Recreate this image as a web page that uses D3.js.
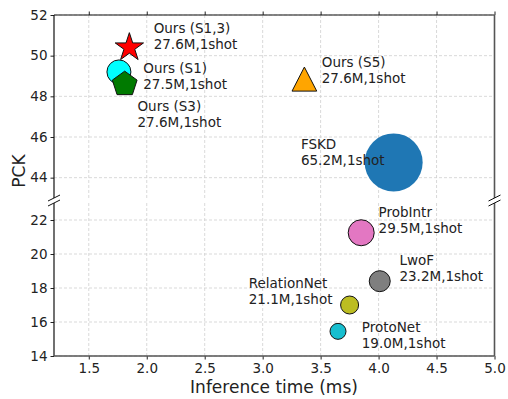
<!DOCTYPE html>
<html>
<head>
<meta charset="utf-8">
<script src="https://cdn.jsdelivr.net/npm/d3@7"></script>
<style>
  body { margin: 0; background: #fff; }
  text { font-family: "DejaVu Sans", sans-serif; fill: #222; }
</style>
</head>
<body>
<div id="chart"></div>
<script>
// methods: inference time (ms), PCK, label lines
const names = ["Ours (S1,3)", "Ours (S1)", "Ours (S3)", "Ours (S5)", "FSKD", "ProbIntr", "LwoF", "RelationNet", "ProtoNet"];
const params = ["27.6M,1shot", "27.5M,1shot", "27.6M,1shot", "27.6M,1shot", "65.2M,1shot", "29.5M,1shot", "23.2M,1shot", "21.1M,1shot", "19.0M,1shot"];
const times = [1.85, 1.76, 1.81, 3.36, 4.13, 3.85, 4.01, 3.75, 3.65];
const pck = [50.4, 49.2, 48.6, 48.8, 44.75, 21.25, 18.4, 17.0, 15.45];
// label anchor (data coords, first-line baseline)
const labelX = [2.06, 1.97, 1.92, 3.51, 3.33, 4.0, 4.18, 2.88, 3.855];
const labelY = [51.1, 49.15, 47.28, 49.44, 45.41, 22.19, 19.35, 17.99, 15.41];
const colors = ["red", "#00ffff", "#007a00", "#ffa500", "#1f77b4", "#e377c2", "#7f7f7f", "#bcbd22", "#17becf"];
const shapes = ["star", "circle", "pentagon", "triangle", "circle", "circle", "circle", "circle", "circle"];
const radius = [12, 12, 13, 13, 29, 13, 10.5, 9, 8];
const xTicks = [1.5, 2.0, 2.5, 3.0, 3.5, 4.0, 4.5, 5.0];
const topTicks = [44, 46, 48, 50, 52];
const botTicks = [14, 16, 18, 20, 22];

const W = 508, H = 399;
const left = 54, right = 494.5;
const topY0 = 15, topY1 = 198, botY0 = 203, botY1 = 356;

const x = d3.scaleLinear().domain([1.2, 5.0]).range([left, right]);
const yTop = d3.scaleLinear().domain([43, 52]).range([topY1, topY0]);
const yBot = d3.scaleLinear().domain([14, 23]).range([botY1, botY0]);
const yFor = d => d > 30 ? yTop : yBot;

const svg = d3.select("#chart").append("svg").attr("width", W).attr("height", H);

// grid
function grid(y, ticks, y0, y1) {
  const g = svg.append("g").attr("stroke", "#cfcfcf").attr("stroke-dasharray", "3,2").attr("stroke-width", 0.8);
  g.selectAll(".gx").data(xTicks.slice(0, -1)).join("line")
    .attr("x1", d => x(d)).attr("x2", d => x(d)).attr("y1", y0).attr("y2", y1);
  g.selectAll(".gy").data(ticks).join("line")
    .attr("x1", left).attr("x2", right).attr("y1", d => y(d)).attr("y2", d => y(d));
}
grid(yTop, topTicks, topY0, topY1);
grid(yBot, botTicks, botY0, botY1);

// axes
const fs = "13.5px";
const ax1 = svg.append("g").attr("transform", `translate(${left},0)`)
  .call(d3.axisLeft(yTop).tickValues(topTicks).tickSize(3.5).tickPadding(3));
const ax2 = svg.append("g").attr("transform", `translate(${left},0)`)
  .call(d3.axisLeft(yBot).tickValues(botTicks).tickSize(3.5).tickPadding(3));
const ax3 = svg.append("g").attr("transform", `translate(0,${botY1})`)
  .call(d3.axisBottom(x).tickValues(xTicks).tickFormat(d3.format(".1f")).tickSize(3.5).tickPadding(4));
const ax4 = svg.append("g").attr("transform", `translate(0,${topY0})`)
  .call(d3.axisTop(x).tickValues(xTicks).tickFormat("").tickSize(3.5));
[ax1, ax2, ax3, ax4].forEach(a => {
  a.select(".domain").remove();
  a.selectAll("text").style("font-size", fs).style("fill", "#222").attr("font-family", "DejaVu Sans");
  a.selectAll("line").attr("stroke", "#222");
});

// spines
const sp = svg.append("g").attr("fill", "none");
sp.append("line").attr("x1", left).attr("x2", left).attr("y1", topY0).attr("y2", topY1).attr("stroke", "#111").attr("stroke-width", 1.2);
sp.append("line").attr("x1", left).attr("x2", left).attr("y1", botY0).attr("y2", botY1).attr("stroke", "#111").attr("stroke-width", 1.2);
sp.append("line").attr("x1", left).attr("x2", right).attr("y1", topY0).attr("y2", topY0).attr("stroke", "#111").attr("stroke-width", 1.2);
sp.append("line").attr("x1", right).attr("x2", right).attr("y1", topY0).attr("y2", topY1).attr("stroke", "#555").attr("stroke-width", 1.6);
sp.append("line").attr("x1", right).attr("x2", right).attr("y1", botY0).attr("y2", botY1).attr("stroke", "#555").attr("stroke-width", 1.6);
sp.append("line").attr("x1", left).attr("x2", right).attr("y1", botY1).attr("y2", botY1).attr("stroke", "#555").attr("stroke-width", 1.6);

// break marks
[left, right].forEach(px => {
  [topY1, botY0].forEach(py => {
    sp.append("line").attr("x1", px - 6).attr("y1", py + 3).attr("x2", px + 6).attr("y2", py - 3)
      .attr("stroke", "#111").attr("stroke-width", 1);
  });
});

// markers
function shapePath(s, r) {
  if (s === "star") return d3.symbol(d3.symbolStar, Math.PI * r * r * 0.55)();
  if (s === "triangle") {
    const pts = [[0, -r], [r * 0.95, r * 0.85], [-r * 0.95, r * 0.85]];
    return "M" + pts.map(p => p.join(",")).join("L") + "Z";
  }
  if (s === "pentagon") {
    const pts = d3.range(5).map(i => {
      const a = -Math.PI / 2 + i * 2 * Math.PI / 5;
      return [r * Math.cos(a), r * Math.sin(a)];
    });
    return "M" + pts.map(p => p.join(",")).join("L") + "Z";
  }
  return null;
}
const order = [4, 5, 6, 7, 8, 1, 2, 3, 0];
const mk = svg.append("g");
order.forEach(i => {
  const cx = x(times[i]), cy = yFor(pck[i])(pck[i]);
  const stroke = i === 4 ? "none" : "#111";
  if (shapes[i] === "circle") {
    mk.append("circle").attr("cx", cx).attr("cy", cy).attr("r", radius[i])
      .attr("fill", colors[i]).attr("stroke", stroke).attr("stroke-width", 1);
  } else {
    mk.append("path").attr("d", shapePath(shapes[i], radius[i]))
      .attr("transform", `translate(${cx},${cy})`)
      .attr("fill", colors[i]).attr("stroke", stroke).attr("stroke-width", 1);
  }
});

// labels
const lb = svg.append("g").style("font-size", "13.5px");
names.forEach((n, i) => {
  const t = lb.append("text").attr("x", x(labelX[i])).attr("y", yFor(labelY[i])(labelY[i]));
  t.append("tspan").attr("x", x(labelX[i])).text(n);
  t.append("tspan").attr("x", x(labelX[i])).attr("dy", 16).text(params[i]);
});

// axis titles
svg.append("text").attr("x", 274).attr("y", 393).attr("text-anchor", "middle")
  .style("font-size", "17px").text("Inference time (ms)");
svg.append("text").attr("transform", `translate(24.5,171) rotate(-90)`)
  .attr("text-anchor", "middle").style("font-size", "17px").text("PCK");
</script>
</body>
</html>
